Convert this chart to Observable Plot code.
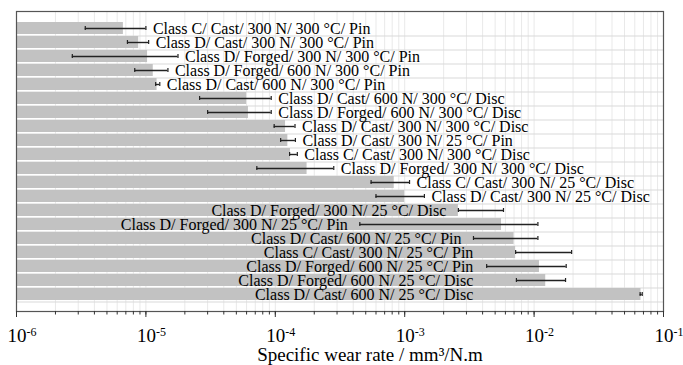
<!DOCTYPE html>
<html>
<head>
<meta charset="utf-8">
<script src="https://cdn.jsdelivr.net/npm/d3@7"></script>
<script src="https://cdn.jsdelivr.net/npm/@observablehq/plot@0.6"></script>
<style>
  body { margin: 0; background: #fff; }
  #chart svg { display: block; }
  #chart svg text { font-family: 'Liberation Serif', 'Times New Roman', serif; }
</style>
</head>
<body>
<div id="chart"></div>
<script>
// ---- data ----
const labels = [
  "Class C/ Cast/ 300 N/ 300 °C/ Pin",
  "Class D/ Cast/ 300 N/ 300 °C/ Pin",
  "Class D/ Forged/ 300 N/ 300 °C/ Pin",
  "Class D/ Forged/ 600 N/ 300 °C/ Pin",
  "Class D/ Cast/ 600 N/ 300 °C/ Pin",
  "Class D/ Cast/ 600 N/ 300 °C/ Disc",
  "Class D/ Forged/ 600 N/ 300 °C/ Disc",
  "Class D/ Cast/ 300 N/ 300 °C/ Disc",
  "Class D/ Cast/ 300 N/ 25 °C/ Pin",
  "Class C/ Cast/ 300 N/ 300 °C/ Disc",
  "Class D/ Forged/ 300 N/ 300 °C/ Disc",
  "Class C/ Cast/ 300 N/ 25 °C/ Disc",
  "Class D/ Cast/ 300 N/ 25 °C/ Disc",
  "Class D/ Forged/ 300 N/ 25 °C/ Disc",
  "Class D/ Forged/ 300 N/ 25 °C/ Pin",
  "Class D/ Cast/ 600 N/ 25 °C/ Pin",
  "Class C/ Cast/ 300 N/ 25 °C/ Pin",
  "Class D/ Forged/ 600 N/ 25 °C/ Pin",
  "Class D/ Forged/ 600 N/ 25 °C/ Disc",
  "Class D/ Cast/ 600 N/ 25 °C/ Disc"
];
const wearRate = [6.7e-6, 8.8e-6, 1.03e-5, 1.14e-5, 1.22e-5, 6.0e-5, 6.2e-5, 1.2e-4, 1.25e-4, 1.31e-4,
                  1.76e-4, 8.3e-4, 1.0e-3, 2.6e-3, 5.6e-3, 7.0e-3, 7.2e-3, 1.1e-2, 1.23e-2, 6.7e-2];
const errLow   = [3.4e-6, 7.2e-6, 2.7e-6, 8.2e-6, 1.19e-5, 2.6e-5, 3.0e-5, 9.8e-5, 1.1e-4, 1.29e-4,
                  7.2e-5, 5.5e-4, 6.0e-4, 2.6e-3, 4.5e-4, 3.4e-3, 7.2e-3, 4.3e-3, 7.3e-3, 6.6e-2];
const errHigh  = [1.0e-5, 1.05e-5, 1.77e-5, 1.48e-5, 1.28e-5, 9.3e-5, 9.3e-5, 1.42e-4, 1.43e-4, 1.48e-4,
                  2.83e-4, 1.09e-3, 1.42e-3, 5.8e-3, 1.07e-2, 1.07e-2, 1.95e-2, 1.77e-2, 1.75e-2, 6.85e-2];
const labelSide = ["right","right","right","right","right","right","right","right","right","right",
                   "right","right","right","left","left","left","left","left","left","left"];
const majorTicks = [1e-6, 1e-5, 1e-4, 1e-3, 1e-2, 1e-1];
const axisTitle = "Specific wear rate / mm³/N.m";

// ---- build table ----
const rows = labels.map((name, i) => ({
  name, v: wearRate[i], lo: errLow[i], hi: errHigh[i], side: labelSide[i]
}));
const LEFT_LABEL_LIMIT = 4.2e-3;
const minorTicks = [];
for (let e = -6; e < -1; e++) for (let k = 1; k <= 9; k++) minorTicks.push(k * Math.pow(10, e));
minorTicks.push(1e-1);

const font = "'Liberation Serif', 'Times New Roman', serif";
const MARK = "\u00A7";

const chart = Plot.plot({
  width: 683,
  height: 365,
  marginLeft: 16,
  marginRight: 20,
  marginTop: 11,
  marginBottom: 54,
  style: { fontFamily: font, background: "#fff", color: "#000", overflow: "visible" },
  x: { type: "log", domain: [1e-6, 1e-1], axis: null },
  y: { domain: labels, padding: 0.14, axis: null },
  marks: [
    // vertical grid
    Plot.ruleX(minorTicks, { x: d => d, stroke: "#e9e9e9", strokeWidth: 1 }),
    // horizontal grid at band boundaries
    Plot.ruleY(rows, { y: "name", dy: 7.5, stroke: "#d9d9d9", strokeWidth: 1 }),
    // bars
    Plot.barX(rows, { y: "name", x1: 1e-6, x2: "v", fill: "#c2c2c2" }),
    // error bars
    Plot.ruleY(rows, { y: "name", x1: "lo", x2: "hi", stroke: "#222", strokeWidth: 1.4 }),
    Plot.tickX(rows, { y: "name", x: "lo", stroke: "#222", strokeWidth: 1.2, insetTop: 4, insetBottom: 4 }),
    Plot.tickX(rows, { y: "name", x: "hi", stroke: "#222", strokeWidth: 1.2, insetTop: 4, insetBottom: 4 }),
    // labels
    Plot.text(rows.filter(d => d.side === "right"), {
      y: "name", x: "hi", text: "name", textAnchor: "start", dx: 7, dy: 0.5,
      fontSize: 16, fill: "#000", fontFamily: font
    }),
    Plot.text(rows.filter(d => d.side === "left"), {
      y: "name", x: d => Math.min(d.lo, LEFT_LABEL_LIMIT), text: "name", textAnchor: "end", dx: -12, dy: 0.5,
      fontSize: 16, fill: "#000", fontFamily: font
    }),
    // frame
    Plot.frame({ stroke: "#555", strokeWidth: 1.2 }),
    // x axis ticks
    Plot.axisX({ ticks: minorTicks, tickSize: 3.5, text: null, label: null, stroke: "#333" }),
    Plot.axisX({ ticks: majorTicks, tickSize: 6, text: null, label: null, stroke: "#333" }),
    // tick labels (exponents styled after render)
    Plot.text(majorTicks, {
      x: d => d, frameAnchor: "bottom", dy: 30, lineAnchor: "bottom",
      text: d => MARK + String(Math.round(Math.log10(d))), fontSize: 19, fill: "#000", fontFamily: font
    }),
    // axis title
    Plot.text([axisTitle], {
      frameAnchor: "bottom", dx: 30, dy: 49, lineAnchor: "bottom",
      fontSize: 19, fill: "#000", fontFamily: font
    })
  ]
});

// rewrite tick labels as 10 with superscript exponent
d3.select(chart).selectAll("text").each(function () {
  const t = d3.select(this);
  const s = t.text();
  if (!s.startsWith(MARK)) return;
  const exp = s.slice(1);
  t.selectAll("*").remove();
  t.text("").attr("text-anchor", "start");
  t.append("tspan").attr("dx", -9).text("10");
  t.append("tspan").attr("dy", "-0.5em").attr("font-size", 12).text(exp);
});

document.getElementById("chart").appendChild(chart);
</script>
</body>
</html>
